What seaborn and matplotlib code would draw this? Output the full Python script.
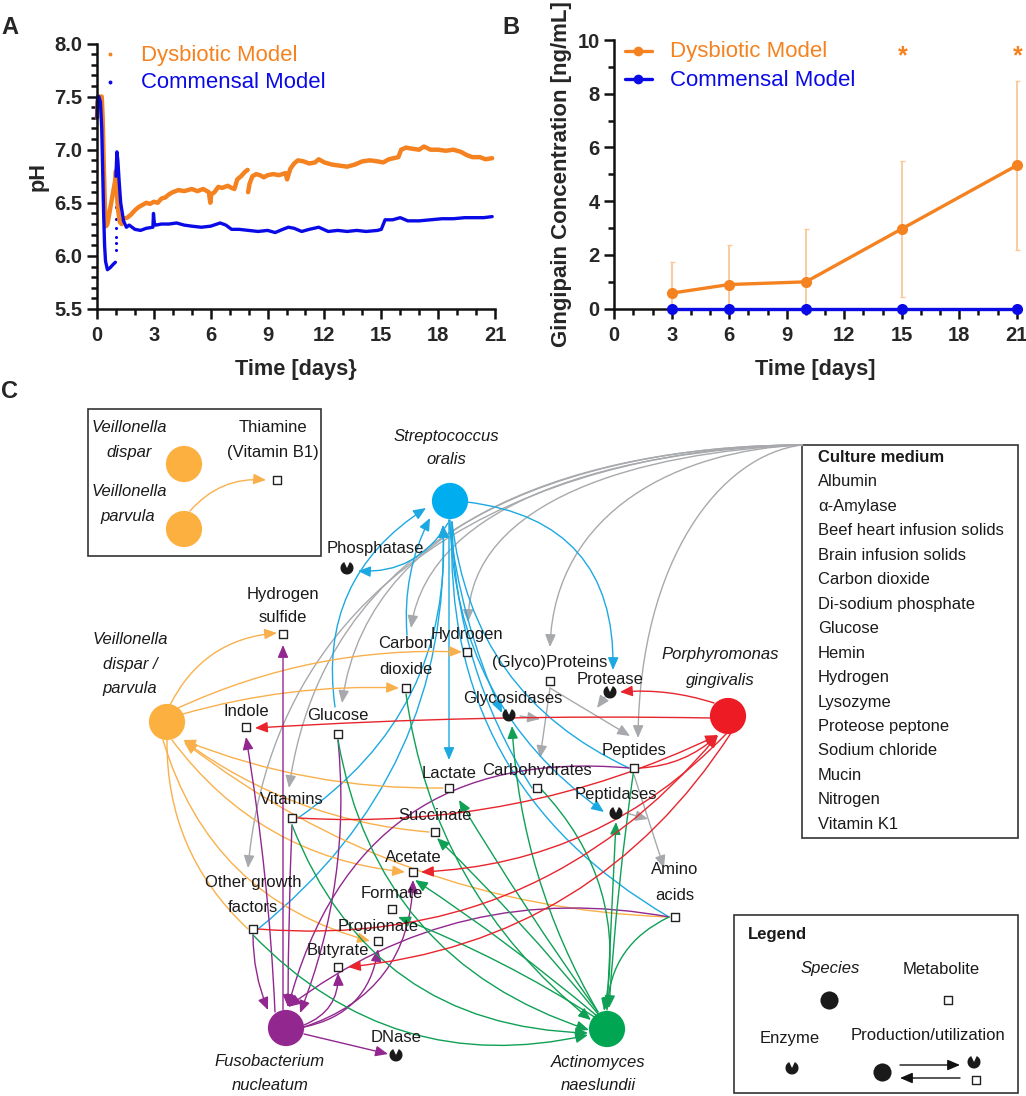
# -*- coding: utf-8 -*-
import matplotlib
matplotlib.use('Agg')
import matplotlib.pyplot as plt
import pandas as pd
import seaborn as sns
from matplotlib.patches import FancyArrowPatch, Rectangle, Wedge
from matplotlib.path import Path
from matplotlib.ticker import MultipleLocator

ORANGE = '#F58220'
BLUE = '#0A0AE6'
INK = '#1a1a1a'
W, H = 1026, 1096

# panel A, pH over time
dys_t = [0.0, 0.03, 0.1, 0.25, 0.3, 0.35, 0.42, 0.48, 0.55, 0.7, 0.85, 0.95, 1.0, 1.05, 1.1, 1.2, 1.3, 1.4,
         1.6, 1.8, 2.0, 2.2, 2.4, 2.6, 2.8, 3.0, 3.2, 3.4, 3.6, 3.8, 4.0, 4.3, 4.6, 5.0, 5.3, 5.6, 5.9, 5.98, 6.03,
         6.2, 6.4, 6.6, 6.9, 7.1, 7.25, 7.4, 7.6, 7.8, 7.95]
dys_ph = [7.3, 7.45, 7.5, 7.5, 7.3, 6.9, 6.45, 6.28, 6.3, 6.45, 6.6, 6.7, 6.8, 6.6, 6.45, 6.32, 6.3, 6.35,
          6.36, 6.39, 6.43, 6.46, 6.48, 6.5, 6.49, 6.51, 6.5, 6.54, 6.55, 6.58, 6.6, 6.62, 6.61, 6.63, 6.61, 6.63, 6.6, 6.5, 6.58,
          6.6, 6.65, 6.64, 6.66, 6.64, 6.63, 6.72, 6.75, 6.79, 6.81]
dys_t2 = [7.97, 8.05, 8.2, 8.4, 8.6, 8.8, 9.0, 9.3, 9.6, 9.95, 10.03, 10.2, 10.4, 10.6, 10.9, 11.2, 11.5, 11.7, 12.0,
          12.4, 12.8, 13.2, 13.6, 14.0, 14.4, 14.8, 15.1, 15.4, 15.9, 16.05, 16.3, 16.6, 17.0, 17.25, 17.6, 18.0, 18.4,
          18.8, 19.2, 19.5, 19.8, 20.2, 20.5, 20.85]
dys_ph2 = [6.6, 6.68, 6.75, 6.77, 6.76, 6.74, 6.76, 6.77, 6.76, 6.78, 6.72, 6.82, 6.87, 6.9, 6.89, 6.87, 6.88, 6.91, 6.88,
           6.86, 6.85, 6.84, 6.86, 6.89, 6.9, 6.89, 6.88, 6.91, 6.93, 7.0, 7.02, 7.01, 7.0, 7.03, 7.0, 7.0, 6.99,
           7.0, 6.98, 6.95, 6.93, 6.93, 6.91, 6.92]
com_t = [0.0, 0.03, 0.1, 0.18, 0.25, 0.3, 0.35, 0.4, 0.45, 0.55, 0.7, 0.85, 0.97]
com_ph = [7.3, 7.5, 7.5, 7.45, 7.2, 6.8, 6.4, 6.1, 5.95, 5.87, 5.89, 5.92, 5.94]
com_t2 = [1.0, 1.05, 1.1, 1.17, 1.25, 1.4, 1.55, 1.7, 2.0, 2.3, 2.6, 2.95, 2.98, 3.03, 3.1, 3.4, 3.8, 4.2, 4.6, 5.0,
          5.5, 6.0, 6.5, 6.8, 7.1, 7.5, 8.0, 8.5, 9.0, 9.4, 9.8, 10.1, 10.4, 10.8, 11.2, 11.7, 12.2, 12.7, 13.2, 13.7,
          14.2, 14.8, 15.0, 15.2, 15.6, 16.0, 16.4, 17.0, 17.6, 18.2, 18.8, 19.4, 20.0, 20.4, 20.85]
com_ph2 = [6.75, 6.98, 6.9, 6.7, 6.5, 6.33, 6.27, 6.29, 6.25, 6.24, 6.26, 6.27, 6.4, 6.3, 6.29, 6.3, 6.3, 6.31, 6.29, 6.28,
           6.27, 6.28, 6.31, 6.29, 6.25, 6.25, 6.24, 6.23, 6.24, 6.22, 6.25, 6.27, 6.26, 6.23, 6.25, 6.27, 6.23, 6.24, 6.23, 6.24,
           6.23, 6.24, 6.25, 6.34, 6.34, 6.36, 6.33, 6.33, 6.34, 6.35, 6.35, 6.36, 6.36, 6.36, 6.37]
com_dot_t = [1.0, 1.0, 1.0, 1.0, 1.0, 1.0, 1.0, 1.0, 1.0, 1.0]
com_dot_ph = [6.06, 6.12, 6.18, 6.26, 6.35, 6.46, 6.55, 6.65, 6.85, 6.95]

# panel B, gingipain
days = [3, 6, 10, 15, 21]
ging_dys = [0.58, 0.9, 1.0, 2.97, 5.33]
ging_dys_hi = [1.73, 2.37, 2.98, 5.5, 8.47]
ging_dys_lo = [0.0, 0.0, 0.0, 0.43, 2.2]
ging_com = [0, 0, 0, 0, 0]

# panel C, network
species_names = ['Streptococcus oralis', 'Veillonella', 'Porphyromonas gingivalis', 'Fusobacterium nucleatum',
                 'Actinomyces naeslundii', 'V. dispar', 'V. parvula']
species_x = [450, 167, 728, 286, 607, 184, 184]
species_y = [501, 722, 716, 1028, 1029, 464, 529]
species_col = ['#00AEEF', '#FBB040', '#ED1C24', '#92278F', '#00A651', '#FBB040', '#FBB040']

metab_x = [276.5, 283, 467, 406, 246, 338, 550, 634, 449, 537, 292, 435, 413, 392, 378, 338, 253, 675]
metab_y = [479.5, 634, 652, 688, 727, 734, 681, 768, 788, 788, 818, 832, 872, 909, 941, 967, 929, 917]
enzyme_xy = [(610, 692), (509, 715), (347, 568), (616, 813), (396, 1055), (792, 1068), (974, 1062)]

labels = [('Hydrogen', 283, 594), ('sulfide', 283, 618), ('Hydrogen', 467, 634), ('Carbon', 406, 644),
          ('dioxide', 406, 669), ('Indole', 246, 711), ('Glucose', 338, 716), ('(Glyco)Proteins', 550, 663),
          ('Protease', 610, 680), ('Glycosidases', 513, 698), ('Phosphatase', 375, 548), ('Peptides', 634, 750),
          ('Lactate', 449, 773), ('Carbohydrates', 537, 771), ('Peptidases', 616, 795), ('Vitamins', 292, 799),
          ('Succinate', 435, 816), ('Acetate', 413, 857), ('Formate', 392, 893), ('Propionate', 378, 926),
          ('Butyrate', 338, 951), ('Other growth', 253, 883), ('factors', 253, 907), ('Amino', 675, 870),
          ('acids', 675, 896), ('DNase', 396, 1038), ('Thiamine', 273, 428), ('(Vitamin B1)', 273, 453),
          ('Metabolite', 941, 969), ('Enzyme', 790, 1038), ('Production/utilization', 928, 1036)]
italics = [('Streptococcus', 446, 436), ('oralis', 446, 460), ('Veillonella', 130, 639), ('dispar /', 130, 664),
           ('parvula', 130, 688), ('Porphyromonas', 720, 655), ('gingivalis', 720, 680), ('Fusobacterium', 270, 1062),
           ('nucleatum', 270, 1086), ('Actinomyces', 598, 1062), ('naeslundii', 598, 1086), ('Veillonella', 129, 427),
           ('dispar', 129, 452), ('Veillonella', 129, 492), ('parvula', 128, 517), ('Species', 830, 969)]
culture = ['Albumin', 'α-Amylase', 'Beef heart infusion solids', 'Brain infusion solids', 'Carbon dioxide',
           'Di-sodium phosphate', 'Glucose', 'Hemin', 'Hydrogen', 'Lysozyme', 'Proteose peptone', 'Sodium chloride',
           'Mucin', 'Nitrogen', 'Vitamin K1']

# grey lines out of the culture medium box: cubic control points
grey_curves = [((620, 445), (280, 520), (248, 868)), ((620, 445), (330, 500), (289, 788)),
               ((620, 445), (370, 500), (342, 703)), ((620, 450), (430, 500), (411, 628)),
               ((640, 452), (470, 500), (468, 622)), ((680, 450), (555, 510), (550, 647)),
               ((720, 455), (640, 560), (638, 738))]
# x0, y0, x1, y1, curvature (arc3 rad), head
grey = [(550, 688, 630, 736, 0, 1), (550, 688, 540, 758, 0, 1),
        (605, 697, 597, 708, 0, 1), (520, 716, 540, 719, 0, 1), (626, 813, 648, 819, 0, 1), (634, 775, 664, 868, 0, 1)]
cyan = [(467, 502, 613, 670, -0.45, 1), (448, 523, 358, 571, -0.3, 1), (335, 707, 426, 508, -0.32, 1),
        (407, 635, 430, 518, -0.14, 1), (298, 818, 443, 525, 0.28, 1), (258, 929, 443, 525, 0.25, 1),
        (449, 520, 449, 760, 0, 1), (449, 520, 502, 713, 0.08, 1), (450, 520, 604, 812, 0.25, 1),
        (669, 917, 452, 522, -0.3, 0), (629, 768, 452, 522, -0.28, 0), (532, 788, 452, 522, -0.14, 0)]
amber = [(190, 511, 266, 480, -0.25, 1), (170, 705, 277, 633, -0.28, 1), (178, 708, 462, 652, -0.12, 1),
         (183, 714, 399, 688, -0.08, 1), (443, 788, 183, 740, -0.1, 1), (429, 832, 184, 741, -0.14, 1),
         (172, 740, 405, 872, 0.22, 1), (669, 917, 184, 742, -0.16, 1), (163, 740, 370, 941, 0.28, 1),
         (167, 740, 248, 929, 0.22, 0)]
red = [(714, 703, 620, 692, 0.1, 1), (711, 718, 255, 728, 0.02, 1), (640, 768, 718, 735, 0.18, 1),
       (298, 818, 718, 735, 0.13, 1), (258, 929, 718, 735, 0.26, 1), (727, 733, 421, 872, -0.2, 1),
       (731, 733, 348, 967, -0.24, 1)]
purple = [(275, 1012, 246, 737, 0.03, 1), (283, 1010, 283, 645, 0, 1), (338, 740, 300, 1013, -0.12, 1),
          (292, 825, 288, 1007, 0.01, 1), (253, 935, 268, 1010, 0.1, 1), (629, 768, 288, 1007, 0.42, 1),
          (669, 917, 288, 1007, 0.22, 1), (304, 1025, 338, 973, 0.35, 1), (304, 1027, 378, 949, 0.35, 1),
          (304, 1027, 413, 880, 0.35, 1), (304, 1034, 388, 1054, 0, 1)]
green = [(253, 935, 588, 1035, 0.28, 1), (292, 825, 588, 1033, 0.33, 1), (338, 740, 589, 1030, 0.3, 1),
         (406, 694, 591, 1020, 0.2, 1), (598, 1012, 512, 726, -0.12, 1), (598, 1012, 459, 800, -0.02, 1),
         (598, 1014, 437, 838, 0.03, 1), (597, 1016, 415, 880, 0.03, 1), (596, 1018, 398, 917, 0.05, 1),
         (540, 788, 604, 1011, -0.26, 1), (634, 768, 609, 1008, 0.02, 1), (607, 1010, 616, 822, 0, 1),
         (669, 917, 607, 1010, 0.3, 1)]

sns.set_style('ticks')
plt.rcParams['font.family'] = ['Liberation Sans', 'DejaVu Sans']

fig = plt.figure(figsize=(W / 100, H / 100), dpi=100)


def px_axes(left, top, right, bottom):
    return fig.add_axes([left / W, 1 - bottom / H, (right - left) / W, (bottom - top) / H])


def style_axis(ax):
    sns.despine(ax=ax)
    for s in ['left', 'bottom']:
        ax.spines[s].set_linewidth(1.8)
        ax.spines[s].set_color('#111111')
    ax.tick_params(which='major', length=7.5, width=1.8, labelsize=14.5, color='#111111')
    ax.tick_params(axis='x', which='major', pad=5)
    ax.tick_params(axis='y', which='major', pad=3)
    ax.tick_params(which='minor', length=4, width=1.8, color='#111111')
    for t in ax.get_xticklabels() + ax.get_yticklabels():
        t.set_fontweight('bold')


# Panel A
dfa = pd.concat([
    pd.DataFrame({'t': dys_t, 'ph': dys_ph, 'model': 'dys', 'seg': 0}),
    pd.DataFrame({'t': dys_t2, 'ph': dys_ph2, 'model': 'dys', 'seg': 1}),
    pd.DataFrame({'t': com_t, 'ph': com_ph, 'model': 'com', 'seg': 2}),
    pd.DataFrame({'t': com_t2, 'ph': com_ph2, 'model': 'com', 'seg': 3}),
])
ax_a = px_axes(97, 43.5, 495, 309)
sns.lineplot(data=dfa[dfa.model == 'dys'], x='t', y='ph', units='seg', estimator=None, sort=False,
             color=ORANGE, lw=3.2, ax=ax_a, legend=False, clip_on=False)
sns.lineplot(data=dfa[dfa.model == 'com'], x='t', y='ph', units='seg', estimator=None, sort=False,
             color=BLUE, lw=2.4, ax=ax_a, legend=False, clip_on=False)
sns.scatterplot(x=com_dot_t, y=com_dot_ph, color=BLUE, s=5, linewidth=0, ax=ax_a)
ax_a.set_xlim(0, 21)
ax_a.set_ylim(5.5, 8)
ax_a.xaxis.set_major_locator(MultipleLocator(3))
ax_a.xaxis.set_minor_locator(MultipleLocator(1))
ax_a.yaxis.set_minor_locator(MultipleLocator(0.1))
ax_a.set_yticks([5.5, 6, 6.5, 7, 7.5, 8], ['5.5', '6.0', '6.5', '7.0', '7.5', '8.0'])
style_axis(ax_a)
ax_a.set_xlabel('Time [days}', fontsize=15.7, fontweight='bold', labelpad=10)
ax_a.set_ylabel('pH', fontsize=15.7, fontweight='bold', labelpad=4)

# Panel B
ax_b = px_axes(614.3, 40, 1016.7, 308.7)
dfb = pd.DataFrame({'day': days * 2, 'conc': ging_dys + ging_com, 'model': ['dys'] * 5 + ['com'] * 5})
ax_b.errorbar(days, ging_dys, yerr=[[m - l for m, l in zip(ging_dys, ging_dys_lo)],
                                    [h - m for m, h in zip(ging_dys, ging_dys_hi)]],
              fmt='none', ecolor='#F9C79A', elinewidth=1.3, capsize=1.8, capthick=1, clip_on=False)
sns.lineplot(data=dfb, x='day', y='conc', hue='model', palette={'dys': ORANGE, 'com': BLUE}, marker='o',
             markersize=8, markeredgewidth=0, lw=2.4, ax=ax_b, legend=False, clip_on=False, zorder=5)
ax_b.set_xlim(0, 21)
ax_b.set_ylim(0, 10)
ax_b.xaxis.set_major_locator(MultipleLocator(3))
ax_b.xaxis.set_minor_locator(MultipleLocator(1))
ax_b.yaxis.set_major_locator(MultipleLocator(2))
ax_b.yaxis.set_minor_locator(MultipleLocator(1))
style_axis(ax_b)
ax_b.set_xlabel('Time [days]', fontsize=15.7, fontweight='bold', labelpad=10)
ax_b.set_ylabel('Gingipain Concentration [ng/mL]', fontsize=16, fontweight='bold')
ax_b.yaxis.set_label_coords(-0.105, 0.5)

# overlay in pixel coordinates for panel C and the hand placed legends
ov = fig.add_axes([0, 0, 1, 1], zorder=10)
ov.set_xlim(0, W)
ov.set_ylim(H, 0)
ov.axis('off')
ov.patch.set_alpha(0)

ov.text(1, 27, 'A', fontsize=17, fontweight='bold', va='center')
ov.text(502, 27, 'B', fontsize=17, fontweight='bold', va='center')
ov.text(1, 392, 'C', fontsize=17, fontweight='bold', va='center')
ov.text(141, 55, 'Dysbiotic Model', color=ORANGE, fontsize=15.9, va='center')
ov.text(141, 83, 'Commensal Model', color=BLUE, fontsize=15.9, va='center')
ov.plot([110], [54], 'o', color=ORANGE, ms=1.8)
ov.plot([110], [82], 'o', color=BLUE, ms=1.8)
ov.text(670, 52, 'Dysbiotic Model', color=ORANGE, fontsize=16, va='center')
ov.text(670, 80, 'Commensal Model', color=BLUE, fontsize=16, va='center')
ov.plot([625, 652], [51, 51], '-', color=ORANGE, lw=2.4)
ov.plot([638], [51], 'o', color=ORANGE, ms=7, mew=0)
ov.plot([625, 652], [79, 79], '-', color=BLUE, lw=2.4)
ov.plot([638], [79], 'o', color=BLUE, ms=7, mew=0)
ov.text(903, 56, '*', color=ORANGE, fontsize=18, fontweight='bold', ha='center', va='center')
ov.text(1018, 56, '*', color=ORANGE, fontsize=18, fontweight='bold', ha='center', va='center')

# boxes
for x0, y0, x1, y1 in [(88, 409, 321, 556), (802, 445, 1018, 838), (734, 915, 1018, 1093)]:
    ov.add_patch(Rectangle((x0, y0), x1 - x0, y1 - y0, fc='none', ec='#333333', lw=1.2, zorder=1))

HEAD = '-|>,head_length=0.75,head_width=0.32'


def draw_edges(edges, color):
    for x0, y0, x1, y1, rad, head in edges:
        style = HEAD if head else '-'
        ov.add_patch(FancyArrowPatch((x0, y0), (x1, y1), connectionstyle=f'arc3,rad={rad}', arrowstyle=style,
                                     mutation_scale=10, color=color, lw=1.0, shrinkA=0, shrinkB=0, zorder=2))


for p1, p2, p3 in grey_curves:
    curve = Path([(802, 445), p1, p2, p3], [Path.MOVETO, Path.CURVE4, Path.CURVE4, Path.CURVE4])
    ov.add_patch(FancyArrowPatch(path=curve, arrowstyle=HEAD, mutation_scale=10, color='#A7A9AC', lw=1.0, zorder=2))
draw_edges(grey, '#A7A9AC')
draw_edges(cyan, '#1CA9E1')
draw_edges(amber, '#F9B04C')
draw_edges(purple, '#92278F')
draw_edges(green, '#0FA055')
draw_edges(red, '#E8242C')
draw_edges([(900, 1065, 960, 1065, 0, 1), (960, 1078, 900, 1078, 0, 1)], '#111111')

# nodes
sp = pd.DataFrame({'x': species_x, 'y': species_y, 'name': species_names})
sns.scatterplot(data=sp, x='x', y='y', hue='name', palette=dict(zip(species_names, species_col)), s=680,
                linewidth=0, legend=False, ax=ov, zorder=4, clip_on=False)
sns.scatterplot(x=[829, 882], y=[1000, 1072], color=INK, s=170, linewidth=0, ax=ov, zorder=4)
sns.scatterplot(x=metab_x + [948, 976], y=metab_y + [1000, 1080], marker='s', s=34, color='white',
                edgecolor='#222222', linewidth=1.0, ax=ov, zorder=6)
for ex, ey in enzyme_xy:
    ov.add_patch(Wedge((ex, ey), 6.5, -65, 245, fc=INK, ec='none', zorder=6))
ov.set_xlim(0, W)
ov.set_ylim(H, 0)
ov.set_xlabel('')
ov.set_ylabel('')

for txt, x, y in labels:
    ov.text(x, y, txt, fontsize=12, ha='center', va='center', color=INK, zorder=7)
for txt, x, y in italics:
    ov.text(x, y, txt, fontsize=12, ha='center', va='center', style='italic', color=INK, zorder=7)

ov.text(818, 457, 'Culture medium', fontsize=12, fontweight='bold', va='center', color=INK)
for i, item in enumerate(culture):
    ov.text(818, 482 + i * 24.45, item, fontsize=11.9, va='center', color=INK)
ov.text(748, 935, 'Legend', fontsize=12, fontweight='bold', va='center', color=INK)

fig.savefig('out.png', dpi=100)
